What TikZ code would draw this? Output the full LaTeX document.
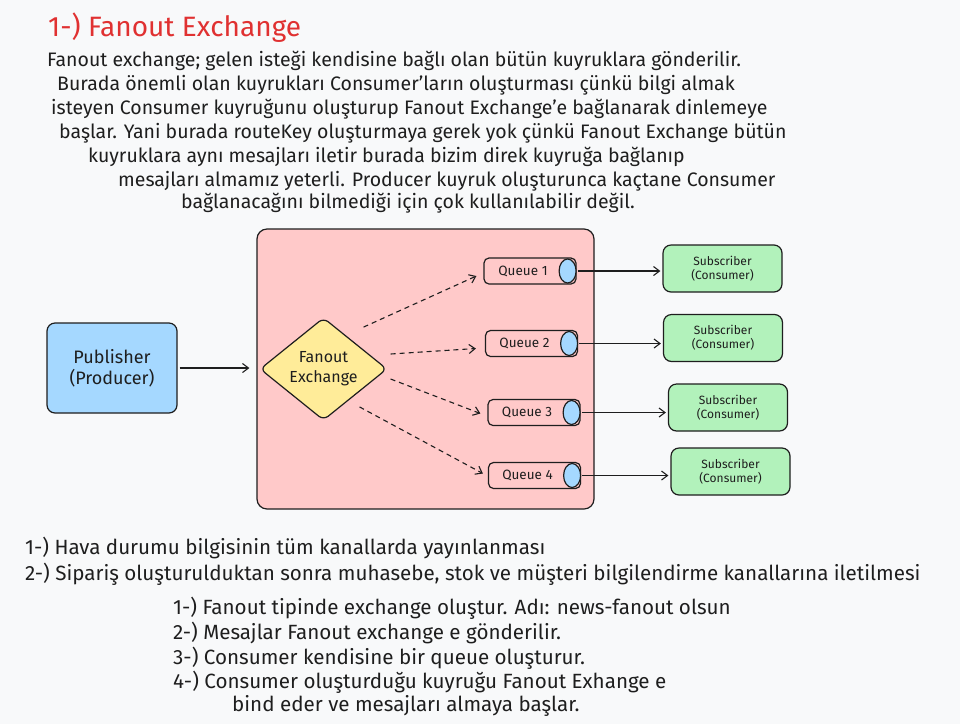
\documentclass[tikz,border=0pt]{standalone}
\usepackage{fontspec}
\setmainfont{Fira Sans}
\usetikzlibrary{shapes.geometric,arrows.meta}
\definecolor{ink}{HTML}{1E1E1E}
\definecolor{paper}{HTML}{F8F9FA}
\definecolor{titlered}{HTML}{E03131}
\definecolor{framepink}{HTML}{FFC9C9}
\definecolor{pubblue}{HTML}{A5D8FF}
\definecolor{exyellow}{HTML}{FFEC99}
\definecolor{subgreen}{HTML}{B2F2BB}
\tikzset{
  box/.style={draw=ink,line width=1.2pt,rounded corners=8pt,inner sep=0pt,align=center},
  qbox/.style={draw=ink,line width=1.2pt,rounded corners=5pt,minimum width=92pt,minimum height=26pt,inner sep=0pt},
  subbox/.style={box,fill=subgreen,minimum width=119pt,minimum height=47pt,font=\fontsize{12}{14}\selectfont},
  flow/.style={ink,line width=1.1pt,-{Straight Barb[length=6pt,width=9pt]}},
  dflow/.style={flow,dash pattern=on 5pt off 4pt},
  txt/.style={anchor=west,inner sep=0pt}
}
\begin{document}
\begin{tikzpicture}[x=1pt,y=-1pt,text=ink]
\fill[paper] (0,0) rectangle (960,724);
\useasboundingbox (0,0) rectangle (960,724);
\node[txt,text=titlered,font=\fontsize{28}{32}\selectfont] (title) at (48,28) {1-) Fanout Exchange};
\begin{scope}[font=\fontsize{19.5}{22}\selectfont]
\foreach \x/\y/\t [count=\i] in {47/61/{Fanout exchange; gelen isteği kendisine bağlı olan bütün kuyruklara gönderilir.},
  57/85/{Burada önemli olan kuyrukları Consumer'ların oluşturması çünkü bilgi almak},
  51/109/{isteyen Consumer kuyruğunu oluşturup Fanout Exchange'e bağlanarak dinlemeye},
  59/133/{başlar. Yani burada routeKey oluşturmaya gerek yok çünkü Fanout Exchange bütün},
  88/157/{kuyruklara aynı mesajları iletir burada bizim direk kuyruğa bağlanıp},
  118/181/{mesajları almamız yeterli. Producer kuyruk oluşturunca kaçtane Consumer},
  181/203/{bağlanacağını bilmediği için çok kullanılabilir değil.}}
  \node[txt] (par\i) at (\x,\y) {\t};
\end{scope}
\node[box,rounded corners=10pt,fill=framepink,minimum width=337pt,minimum height=280pt] (frame) at (425.5,369) {};
\node[box,fill=pubblue,minimum width=130pt,minimum height=90pt,font=\fontsize{18}{21}\selectfont] (pub) at (112,368) {Publisher\\(Producer)};
\node[diamond,draw=ink,line width=1.2pt,rounded corners=6pt,fill=exyellow,inner sep=0pt,minimum width=127pt,minimum height=102pt,align=center,font=\fontsize{16}{20}\selectfont] (ex) at (323.5,369) {Fanout\\Exchange};
\foreach \x/\y [count=\i] in {530/271,531.5/343.5,534/412.5,534.5/475.5} {
  \node[qbox] (q\i) at (\x,\y) {};
  \draw[ink,line width=1.2pt,fill=pubblue] ([shift={(-9,0)}]q\i.east) ellipse (8.5pt and 12pt);
  \node[font=\fontsize{13.5}{16}\selectfont] (ql\i) at ([shift={(-7,0)}]q\i.center) {Queue \i};
}
\foreach \x/\y [count=\i] in {722.5/268.5,723/338,728/407.5,730.5/471.5}
  \node[subbox] (s\i) at (\x,\y) {Subscriber\\(Consumer)};
\draw[flow] ([shift={(2,0)}]pub.east) -- ([shift={(-10,0)}]pub.east -| ex.west);
\draw[dflow] ([shift={(8,-16)}]ex.north east) -- ([shift={(-7,5)}]q1.west);
\draw[dflow] ([shift={(3,-15)}]ex.east) -- ([shift={(-9,5)}]q2.west);
\draw[dflow] ([shift={(3,10)}]ex.east) -- ([shift={(-7,1)}]q3.west);
\draw[dflow] ([shift={(4,12)}]ex.south east) -- ([shift={(-5,-2)}]q4.west);
\foreach \i in {1,...,4}
  \draw[flow] ([shift={(1,0)}]q\i.east) -- ([shift={(-2,0)}]q\i.east -| s\i.west);
\begin{scope}[font=\fontsize{20.6}{24}\selectfont]
\foreach \x/\y/\t [count=\i] in {25/548/{1-) Hava durumu bilgisinin tüm kanallarda yayınlanması},
  25/574/{2-) Sipariş oluşturulduktan sonra muhasebe, stok ve müşteri bilgilendirme kanallarına iletilmesi},
  173/608/{1-) Fanout tipinde exchange oluştur. Adı: news-fanout olsun},
  173/633/{2-) Mesajlar Fanout exchange e gönderilir.},
  173/658/{3-) Consumer kendisine bir queue oluşturur.},
  173/682/{4-) Consumer oluşturduğu kuyruğu Fanout Exhange e},
  232/706/{bind eder ve mesajları almaya başlar.}}
  \node[txt] (use\i) at (\x,\y) {\t};
\end{scope}
\end{tikzpicture}
\end{document}
